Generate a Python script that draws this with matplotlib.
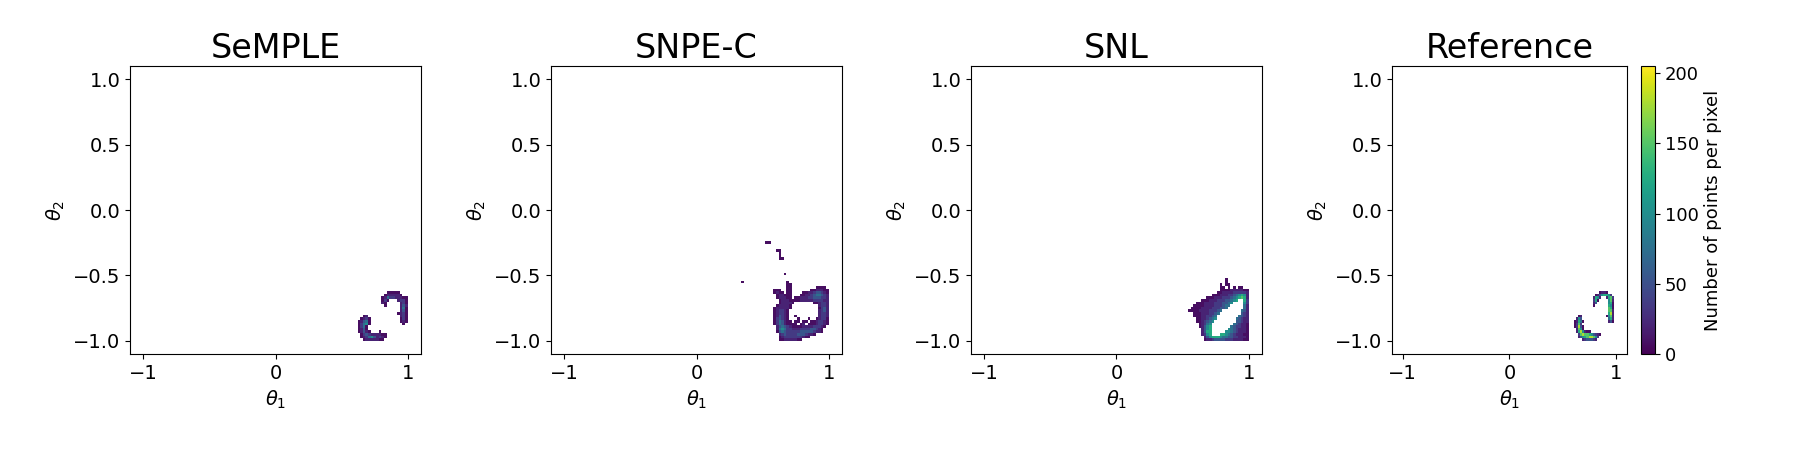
import numpy as np
import matplotlib
matplotlib.use("Agg")
import matplotlib.pyplot as plt
from matplotlib.colors import Normalize

titles = ["SeMPLE", "SNPE-C", "SNL", "Reference"]
x_ticks = [-1, 0, 1]
y_ticks = [-1.0, -0.5, 0.0, 0.5, 1.0]
cbar_ticks = [0, 50, 100, 150, 200]
cbar_label = "Number of points per pixel"
# counts per pixel for each level character '1'..'9'
level_counts = [0, 8, 20, 35, 55, 75, 100, 125, 150, 180]
count_max = 205
bin_width = 0.02

# Each grid: (x of left column edge, y of top row edge), rows top -> bottom
semple_origin = (0.60, -0.60)
semple_rows = [
    "....................",
    "............11111...",
    "...........1222221..",
    "..........1253322211",
    "..........131...2331",
    "..........21.....231",
    "...........1.....242",
    ".................251",
    ".................241",
    "................1231",
    "...12............231",
    "..1231...........131",
    ".12451...........121",
    ".13561............1.",
    ".1351...............",
    ".1241...............",
    ".12421...1..........",
    "..1343222211........",
    "..1235642321........",
    "...12222211.........",
]

snpec_origin = (0.30, -0.20)
snpec_rows = [
    "...................................",
    "...................................",
    "...........11......................",
    "...................................",
    "...................................",
    "...............11..................",
    "................1..................",
    "................1..................",
    "................11.................",
    "...................................",
    "...................................",
    "...................................",
    "...................................",
    "...................................",
    "..................1................",
    "...................................",
    "...................................",
    "..1................1...............",
    "...................11..............",
    "...................11.........1111.",
    "..............111..11.......1122211",
    "..............1211.11....1122344321",
    "...............122111...11223455432",
    "...............122211.1122233444332",
    "................1222111122222333322",
    "................122221.......112332",
    "...............122221..........2332",
    "..............1222221..........1342",
    "..............123321...........2342",
    "..............123321...........2332",
    "..............124321..1........2332",
    "..............134321...1...1..12331",
    "..............1354211.11.11.1123321",
    "..............135421111.12.11123321",
    "...............2454321111222233321.",
    "...............256533222333344321..",
    "...............145433333444443221..",
    "................23433334443221.....",
    "................123333333211.......",
    "................112222211..........",
]

snl_origin = (0.50, -0.40)
snl_rows = [
    ".........................",
    ".........................",
    ".........................",
    ".........................",
    ".........................",
    ".........................",
    "................1........",
    "................1........",
    "..............1.11.......",
    "..............11.1.1.11..",
    "..............11112222211",
    ".............112222333332",
    "...........11122233456762",
    ".........1112223334567872",
    ".......11122233344567..73",
    ".....11122223334456....63",
    "....11112222333455.....52",
    "...11112222333445......52",
    "..1111222233345.......542",
    "....1112223345........432",
    "....111223345........5432",
    ".....11223456.......54322",
    ".....1123456........44322",
    "......12356........543221",
    "......12467.......5433221",
    ".......2467......65432221",
    ".......2477.....665432221",
    ".......2367...77654322211",
    "........24677765544332221",
    "........12234444333222211",
]

ref_origin = (0.60, -0.60)
ref_rows = [
    "....................",
    "............1221....",
    "..........12467763..",
    ".........2762..2783.",
    ".........371....682.",
    ".........24.....671.",
    ".........1......761.",
    "................871.",
    "................882.",
    "................792.",
    "..12...........1682.",
    ".264............572.",
    "12751...........241.",
    "1383................",
    "13941...............",
    ".2861...............",
    ".2796211............",
    "..38988764321.......",
    "..2467899863........",
    "....2344432.........",
]

panels = [
    (semple_origin, semple_rows),
    (snpec_origin, snpec_rows),
    (snl_origin, snl_rows),
    (ref_origin, ref_rows),
]

edges = np.linspace(-1.0, 1.0, 101)
nb = len(edges) - 1


def grid_to_hist(origin, rows):
    H = np.zeros((nb, nb))
    x0, ytop = origin
    ix0 = int(round((x0 + 1.0) / bin_width))
    iytop = int(round((ytop + 1.0) / bin_width)) - 1
    for r, line in enumerate(rows):
        for c, ch in enumerate(line):
            if ch.isdigit() and ch != "0":
                ix = ix0 + c
                iy = iytop - r
                if 0 <= ix < nb and 0 <= iy < nb:
                    H[iy, ix] = level_counts[int(ch)]
    return np.ma.masked_equal(H, 0)


W, Hpx = 1799, 450
fig = plt.figure(figsize=(W / 100, Hpx / 100), dpi=100)

ax_px = [(130, 291), (551, 291), (971, 291), (1392, 235)]
top_px, bot_px = 66, 354
norm = Normalize(vmin=0, vmax=count_max)
mesh = None
for (left, width), title, (origin, rows) in zip(ax_px, titles, panels):
    ax = fig.add_axes([left / W, 1 - bot_px / Hpx, width / W, (bot_px - top_px) / Hpx])
    Hm = grid_to_hist(origin, rows)
    mesh = ax.pcolormesh(edges, edges, Hm, cmap="viridis", norm=norm)
    ax.set_xlim(-1.1, 1.1)
    ax.set_ylim(-1.1, 1.1)
    ax.set_xticks(x_ticks)
    ax.set_yticks(y_ticks)
    ax.tick_params(labelsize=14)
    ax.set_xlabel(r"$\theta_1$", fontsize=14)
    ax.set_ylabel(r"$\theta_2$", fontsize=14)
    ax.set_title(title, fontsize=24)

cax = fig.add_axes([1641 / W, 1 - bot_px / Hpx, 14 / W, (bot_px - top_px) / Hpx])
cb = fig.colorbar(mesh, cax=cax, ticks=cbar_ticks)
cb.ax.tick_params(labelsize=13)
cb.set_label(cbar_label, fontsize=13)

fig.savefig("out.png", dpi=100)
